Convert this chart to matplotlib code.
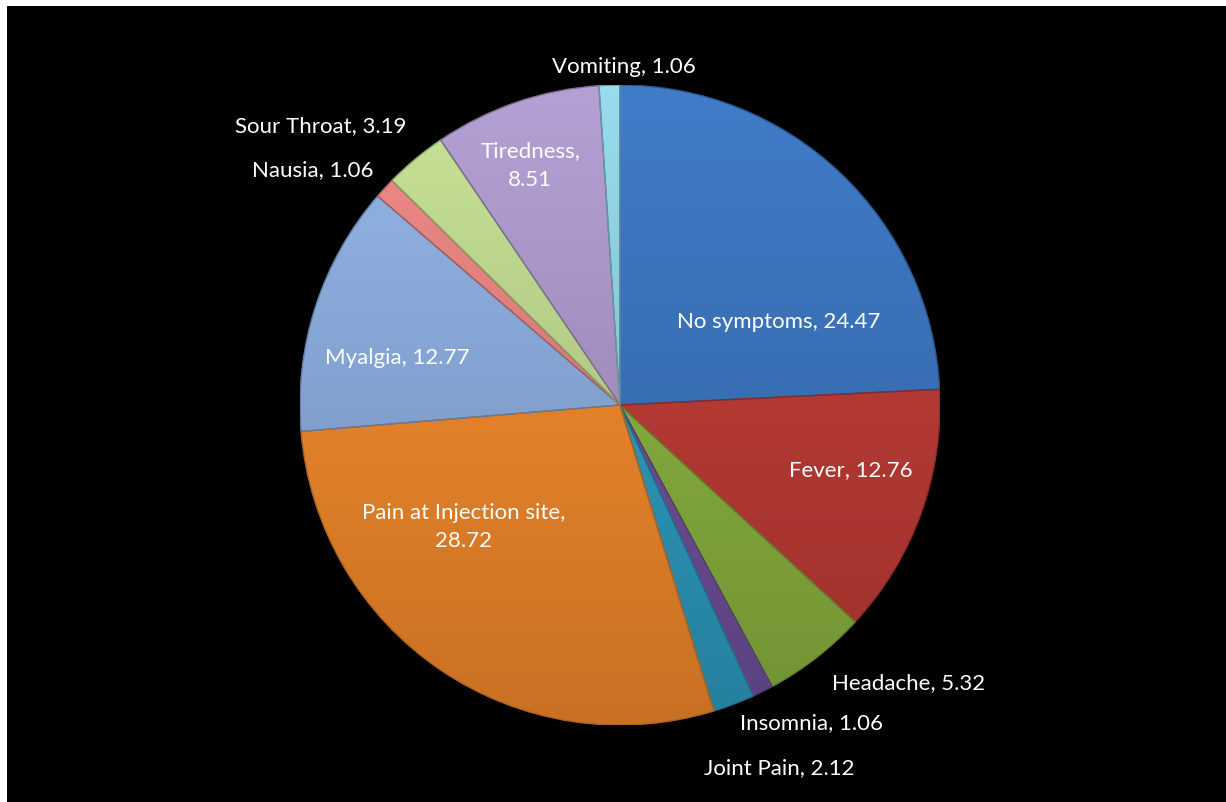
import numpy as np
import matplotlib
matplotlib.use("Agg")
import matplotlib.pyplot as plt
from matplotlib.colors import to_rgb
from matplotlib.patches import Wedge

# ---- data ----
categories = ["No symptoms", "Fever", "Headache", "Insomnia", "Joint Pain",
              "Pain at Injection site", "Myalgia", "Nausia", "Sour Throat",
              "Tiredness", "Vomiting"]
values = [24.47, 12.76, 5.32, 1.06, 2.12, 28.72, 12.77, 1.06, 3.19, 8.51, 1.06]
colors = ["#3B74BD", "#BE3B35", "#8AB23F", "#70509B", "#2E9CC0", "#F4892B",
          "#8AABDC", "#E5827F", "#BDD68D", "#AA96C8", "#8DD0E1"]
# label line-break style (True = value on its own line)
label_wrap = [False, False, False, False, False, True, False, False, False, True, False]

# ---- layout (label positions in pie-radius units) ----
label_xy = [(0.497, 0.259), (0.722, -0.203), (0.903, -0.869), (0.597, -0.994),
            (0.497, -1.134), (-0.49, -0.381), (-0.697, 0.147), (-0.959, 0.734),
            (-0.934, 0.872), (-0.281, 0.747), (0.0125, 1.056)]

W, H = 1226, 802
fig = plt.figure(figsize=(W / 100, H / 100), dpi=100, facecolor="white")
bg = fig.add_axes([7 / W, 0, 1 - 7 / W, (H - 6) / H], zorder=-10)
bg.set_facecolor("black")
bg.set_xticks([]); bg.set_yticks([])
for s in bg.spines.values():
    s.set_visible(False)

cx, cy, R = 620, 405, 320
ax = fig.add_axes([(cx - R) / W, (H - cy - R) / H, 2 * R / W, 2 * R / H], zorder=1)
ax.set_facecolor("none")
ax.axis("off")

wedges, _ = ax.pie(values, colors=colors, startangle=90, counterclock=False,
                   radius=1.0,
                   wedgeprops=dict(edgecolor="none", linewidth=0))

# vertical gradient shading for each wedge
n = 256
t = np.linspace(0, 1, n)[:, None]  # 0 top -> 1 bottom
for w, c in zip(wedges, colors):
    rgb = np.array(to_rgb(c))
    top = np.clip(rgb * 1.05 + 0.01, 0, 1)
    bot = rgb * 0.82
    img = top[None, None, :] * (1 - t[:, :, None]) + bot[None, None, :] * t[:, :, None]
    img = np.repeat(img, 4, axis=1)
    im = ax.imshow(img, extent=[-1, 1, -1, 1], origin="upper",
                   interpolation="bilinear", zorder=2, aspect="auto")
    im.set_clip_path(w)
    # bevel edge
    ax.add_patch(Wedge(w.center, w.r, w.theta1, w.theta2,
                       facecolor="none", edgecolor=tuple(np.clip(rgb * 0.72, 0, 1)),
                       linewidth=1.0, zorder=3))

for cat, val, wrap, (x, y) in zip(categories, values, label_wrap, label_xy):
    sep = ",\n" if wrap else ", "
    ax.text(x, y, f"{cat}{sep}{val:.2f}", ha="center", va="center",
            color="white", fontsize=16, family=["Lato", "DejaVu Sans"],
            linespacing=1.55, zorder=5, clip_on=False)

ax.set_xlim(-1, 1)
ax.set_ylim(-1, 1)
ax.set_aspect("auto")

fig.savefig("out.png", dpi=100, facecolor="white")
